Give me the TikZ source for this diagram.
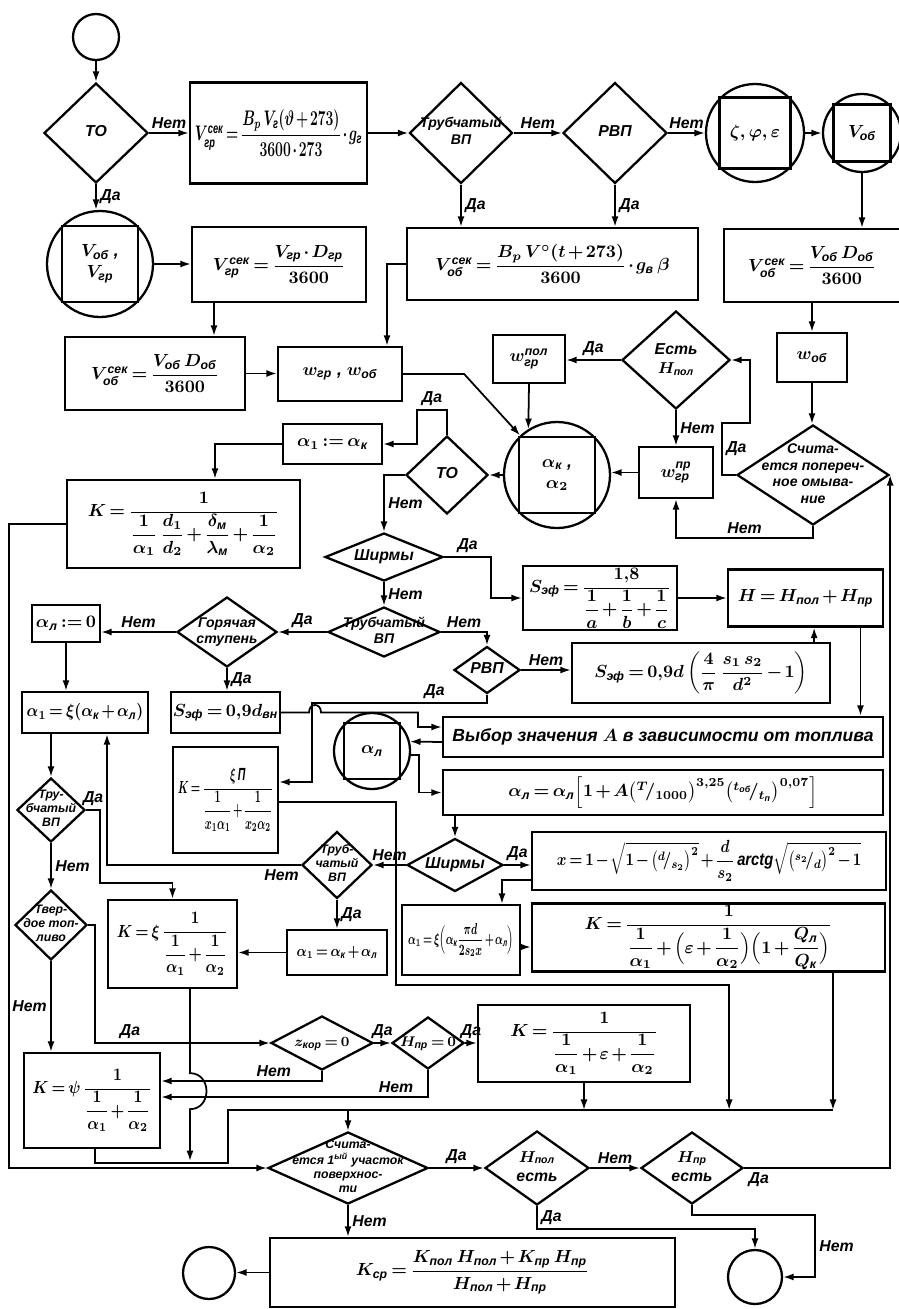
\documentclass[tikz,border=0pt]{standalone}
\usepackage{amsmath}
\usepackage{graphicx}
\usepackage{fontspec}
\setmainfont{Liberation Sans}
\usetikzlibrary{arrows.meta,shapes.geometric}
\newcommand{\rtxt}[1]{\text{#1}}
\newcommand{\nfont}{\bfseries\itshape\boldmath\medmuskip=2mu\thickmuskip=3mu\relax}
\newcommand{\narrow}[2][0.8]{\scalebox{#1}[1]{#2}}
\newcommand{\dtxt}[1]{\smash{\makebox[0pt]{\raisebox{-0.25em}{\begin{tabular}{@{}c@{}}#1\end{tabular}}}}}

\begin{document}
\begin{tikzpicture}[x=0.02cm, y=-0.02cm, >={Latex[length=6pt,width=4pt]},
  every node/.style={font=\nfont},
  box/.style={draw, rectangle, line width=1.3pt, inner sep=1pt, align=center},
  dia/.style={draw, diamond, line width=1.3pt, inner sep=0pt, font=\small\nfont},
  circ/.style={draw, circle, line width=1.3pt, inner sep=0pt, align=center},
  sz/.style 2 args={minimum width=#1*0.02cm, minimum height=#2*0.02cm},
  largef/.style={font=\large\nfont},
  smallf/.style={font=\small\nfont},
  tinyf/.style={font=\footnotesize\nfont},
  lbl/.style={font=\small\bfseries\itshape, inner sep=2pt},
  conn/.style={line width=1pt},
  arr/.style={conn, ->}]

\useasboundingbox (0,0) rectangle (899,1309);

% top row
\node[circ, minimum size=46*0.02cm] (start) at (96,37) {};
\node[dia, sz={104}{100}] (to1) at (96,133) {\dtxt{ТО}};
\node[box, largef, sz={177}{101}] (vgr1) at (278.5,133) {\narrow[0.66]{$V^{\rtxt{сек}}_{\rtxt{гр}}=\dfrac{B_p\,V_{\rtxt{г}}(\vartheta+273)}{3600\cdot 273}\cdot g_{\rtxt{г}}$}};
\node[dia, tinyf, sz={103}{101}] (tvp1) at (461,133) {\dtxt{Трубчатый\\ВП}};
\node[dia, sz={104}{101}] (rvp1) at (615,133) {\dtxt{РВП}};
\node[circ, minimum size=98*0.02cm] (zfe) at (755,133) {$\zeta,\varphi,\varepsilon$};
\node[circ, minimum size=78*0.02cm] (vob0) at (862,133) {$V_{\rtxt{об}}$};
\draw[line width=1.3pt] (zfe.135) rectangle (zfe.-45);
\draw[line width=1.3pt] (vob0.135) rectangle (vob0.-45);

\node[circ, minimum size=106*0.02cm] (vv) at (100,264) {$V_{\rtxt{об}}$ ,\\ $V_{\rtxt{гр}}$};
\draw[line width=1.3pt] (vv.135) rectangle (vv.-45);
\node[box, sz={174}{75}] (vgr2) at (279,264.5) {$V^{\rtxt{сек}}_{\rtxt{гр}}=\dfrac{V_{\rtxt{гр}}\cdot D_{\rtxt{гр}}}{3600}$};
\node[box, sz={291}{72}] (vob2) at (552.5,264) {$V^{\rtxt{сек}}_{\rtxt{об}}=\dfrac{B_p\,V^{\circ}(t+273)}{3600}\cdot g_{\rtxt{в}}\,\beta$};
\node[box, sz={176}{73}] (vob3) at (812,265.5) {$V^{\rtxt{сек}}_{\rtxt{об}}=\dfrac{V_{\rtxt{об}}\;D_{\rtxt{об}}}{3600}$};

\node[box, sz={180}{73}] (vob1) at (155,373.5) {$V^{\rtxt{сек}}_{\rtxt{об}}=\dfrac{V_{\rtxt{об}}\;D_{\rtxt{об}}}{3600}$};
\node[box, sz={124}{54}] (w12) at (340,374) {$w_{\rtxt{гр}}$ , $w_{\rtxt{об}}$};
\node[box, sz={70}{49}] (wob) at (812,357.5) {$w_{\rtxt{об}}$};
\node[dia, sz={108}{98}] (est) at (676,360) {\dtxt{Есть\\$H_{\rtxt{пол}}$}};
\node[box, sz={72}{48}] (wpol) at (529,359) {$w^{\rtxt{пол}}_{\rtxt{гр}}$};
\node[box, sz={74}{51}] (wpr) at (676,472.5) {$w^{\rtxt{пр}}_{\rtxt{гр}}$};
\node[dia, tinyf, sz={152}{100}] (schp) at (813,475) {\dtxt{Счита-\\ется попереч-\\ное омыва-\\ние}};
\node[circ, minimum size=106*0.02cm] (akc) at (557,475) {$\alpha_{\rtxt{к}}$ ,\\ $\alpha_2$};
\draw[line width=1.3pt] (akc.135) rectangle (akc.-45);
\node[dia, sz={82}{78}] (to2) at (447,475) {\dtxt{ТО}};
\node[box, sz={99}{40}] (a1k) at (332.5,444) {$\alpha_1:=\alpha_{\rtxt{к}}$};
\node[box, sz={233}{88}] (k1) at (183.5,524) {$K=\dfrac{1}{\dfrac{1}{\alpha_1}\,\dfrac{d_1}{d_2}+\dfrac{\delta_{\rtxt{м}}}{\lambda_{\rtxt{м}}}+\dfrac{1}{\alpha_2}}$};

% middle
\node[dia, sz={118}{48}] (shm1) at (384,557) {\dtxt{Ширмы}};
\node[box, sz={154}{59}] (sef1) at (600,598) {$S_{\rtxt{эф}}=\dfrac{1{,}8}{\dfrac1a+\dfrac1b+\dfrac1c}$};
\node[box, sz={155}{57}] (hh) at (805.5,598) {$H=H_{\rtxt{пол}}+H_{\rtxt{пр}}$};
\node[dia, tinyf, sz={112}{50}] (tvp2) at (384,632) {\dtxt{Трубчатый\\ВП}};
\node[dia, tinyf, sz={100}{70}] (gor) at (227,632) {\dtxt{Горячая\\ступень}};
\node[box, sz={68}{37}] (al0) at (66,623.5) {$\alpha_{\rtxt{л}}:=0$};
\node[dia, sz={66}{47}] (rvp2) at (487,670) {\dtxt{РВП}};
\node[box, sz={258}{60}] (sef2) at (701,673) {$S_{\rtxt{эф}}=0{,}9d\left(\dfrac{4}{\pi}\;\dfrac{s_1\,s_2}{d^2}-1\right)$};
\node[box, sz={126}{41}] (a1x) at (85,712.5) {\narrow[0.88]{$\alpha_1=\xi(\alpha_{\rtxt{к}}+\alpha_{\rtxt{л}})$}};
\node[box, sz={105}{41}] (sef3) at (225.5,712.5) {$S_{\rtxt{эф}}=0{,}9d_{\rtxt{вн}}$};
\node[box, sz={440}{40}] (vyb) at (663,737) {Выбор значения $A$ в зависимости от топлива};
\node[circ, minimum size=76*0.02cm] (alc) at (372,751) {$\alpha_{\rtxt{л}}$};
\draw[line width=1.3pt] (alc.135) rectangle (alc.-45);
\node[box, sz={440}{45}] (alf) at (663,792.5) {$\alpha_{\rtxt{л}}=\alpha_{\rtxt{л}}\Bigl[1+A\bigl({}^{T}\!/_{1000}\bigr)^{3{,}25}\bigl({}^{t_{\rtxt{об}}}\!/_{t_{\rtxt{п}}}\bigr)^{0{,}07}\Bigr]$};
\node[box, sz={105}{106}] (kxi) at (225.5,800) {\narrow[0.6]{$K=\dfrac{\xi\,\rtxt{П}}{\dfrac{1}{x_1\alpha_1}+\dfrac{1}{x_2\alpha_2}}$}};
\node[dia, sz={68}{64}, font=\scriptsize\bfseries\itshape] (tv1) at (51,810) {\dtxt{Тру-\\бчатый\\ВП}};
\node[dia, sz={96}{53}] (shm2) at (455,865) {\dtxt{Ширмы}};
\node[box, sz={354}{58}] (xbox) at (709,861) {\narrow[0.84]{$x=1-\sqrt{1-\bigl({}^{d}\!/_{s_2}\bigr)^2}+\dfrac{d}{s_2}\,\rtxt{arctg}\sqrt{\bigl({}^{s_2}\!/_{d}\bigr)^2-1}$}};
\node[dia, sz={70}{67}, font=\scriptsize\bfseries\itshape] (tv3) at (337,865) {\dtxt{Труб-\\чатый\\ВП}};
\node[box, smallf, sz={118}{70}] (a1pi) at (461,940) {\narrow[0.63]{$\alpha_1=\xi\Bigl(\alpha_{\rtxt{к}}\dfrac{\pi d}{2s_2x}+\alpha_{\rtxt{л}}\Bigr)$}};
\node[box, sz={353}{65}] (keps) at (708.5,937.5) {$K=\dfrac{1}{\dfrac{1}{\alpha_1}+\Bigl(\varepsilon+\dfrac{1}{\alpha_2}\Bigr)\Bigl(1+\dfrac{Q_{\rtxt{л}}}{Q_{\rtxt{к}}}\Bigr)}$};
\node[box, smallf, sz={100}{45}] (a1s) at (337,952.5) {\narrow[0.82]{$\alpha_1=\alpha_{\rtxt{к}}+\alpha_{\rtxt{л}}$}};
\node[dia, sz={72}{70}, font=\scriptsize\bfseries\itshape] (tvt) at (51,925) {\dtxt{Твер-\\дое топ-\\ливо}};
\node[box, sz={129}{88}] (kxi2) at (172.5,944) {\narrow[0.85]{$K=\xi\,\dfrac{1}{\dfrac{1}{\alpha_1}+\dfrac{1}{\alpha_2}}$}};

% bottom
\node[box, sz={136}{95}] (kpsi) at (92,1100.5) {\narrow[0.88]{$K=\psi\,\dfrac{1}{\dfrac{1}{\alpha_1}+\dfrac{1}{\alpha_2}}$}};
\node[dia, tinyf, sz={102}{54}] (zk) at (322,1043) {\dtxt{$z_{\rtxt{кор}}=0$}};
\node[dia, tinyf, sz={72}{52}] (hp0) at (428,1043) {\dtxt{$H_{\rtxt{пр}}=0$}};
\node[box, sz={212}{77}] (ke2) at (584,1043.5) {$K=\dfrac{1}{\dfrac{1}{\alpha_1}+\varepsilon+\dfrac{1}{\alpha_2}}$};
\coordinate (busL) at (228,1110);
\coordinate (busR) at (833,1110);
\node[dia, sz={160}{72}, font=\scriptsize\bfseries\itshape] (sch1) at (348,1168) {\dtxt{Счита-\\ется 1$^{\text{ый}}$ участок\\поверхнос-\\ти}};
\node[dia, sz={104}{74}] (hpol) at (537,1168) {\dtxt{$H_{\rtxt{пол}}$\\есть}};
\node[dia, sz={102}{72}] (hpr) at (692,1168) {\dtxt{$H_{\rtxt{пр}}$\\есть}};
\node[box, sz={405}{69}] (ksr) at (472.5,1272.5) {$K_{\rtxt{ср}}=\dfrac{K_{\rtxt{пол}}\,H_{\rtxt{пол}}+K_{\rtxt{пр}}\,H_{\rtxt{пр}}}{H_{\rtxt{пол}}+H_{\rtxt{пр}}}$};
\node[circ, minimum size=52*0.02cm] (end1) at (209,1273) {};
\node[circ, minimum size=54*0.02cm] (end2) at (755,1277) {};

% connectors
\draw[arr] (start) -- (to1);
\draw[arr] (to1.east) -- (to1.east -| vgr1.west) node[lbl, midway, above] (l1) {Нет};
\draw[arr] (vgr1.east) -- (tvp1.west);
\draw[arr] (tvp1.east) -- (rvp1.west) node[lbl, midway, above] (l2) {Нет};
\draw[arr] (rvp1.east) -- (zfe.west) node[lbl, midway, above] (l3) {Нет};
\draw[arr] (zfe.east) -- (vob0.west);
\draw[arr] (to1.south) -- (to1.south |- vv.north) node[lbl, midway, right] (l4) {Да};
\draw[arr] (vv.east) -- (vv.east -| vgr2.west);
\draw[arr] ([xshift=-1.3cm]vgr2.south) -- ([xshift=-1.3cm]vgr2.south |- vob1.north);
\draw[arr] (vob1.east) -- (vob1.east -| w12.west);
\draw[arr] (vob2.west) -| ([xshift=0.94cm]w12.north);
\draw[arr] (tvp1.south) -- (tvp1.south |- vob2.north) node[lbl, midway, right] (l5) {Да};
\draw[arr] (rvp1.south) -- (rvp1.south |- vob2.north) node[lbl, midway, right] (l6) {Да};
\draw[arr] (vob0.south) -- (vob0.south |- vob3.north);
\draw[arr] (vob3.south) -- (wob.north);
\draw[arr] (wob.south) -- (wob.south |- schp.north);
\draw[arr] (schp.west) -- ++(-14,0) -- ++(0,-52) node[lbl, midway, right] (l7) {Да} -- ++(28,0) |- (est.east);
\draw[arr] (est.west) -- (est.west -| wpol.east) node[lbl, midway, above] (l8) {Да};
\draw[arr] (wpol.south) -- (akc.122);
\draw[arr] (wpr.west) -- (wpr.west -| akc.east);
\draw[arr] (est.south) -- (est.south |- wpr.north) node[lbl, midway, right] (l9) {Нет};
\draw[arr] (schp.south) -- ++(0,12) -| (wpr.south) node[lbl, pos=0.25, above] (l10) {Нет};
\draw[arr] (hpr.east) -| (schp.east) node[lbl, pos=0.05, below] (l11) {Да};
\draw[arr] (akc.west) -- (to2.east);
\draw[arr] (w12.east) -- ++(61,0) -- (akc.133);
\draw[arr] (to2.north) -- ++(0,-25) -- ++(-30,0) node[lbl, midway, above] (l12) {Да} |- (a1k.east);
\draw[arr] (a1k.west) -| ([xshift=0.63cm]k1.north);
\draw[arr] (k1.west) -- ++(-57,0) |- (sch1.west);
\draw[arr] (to2.west) -| (shm1.north) node[lbl, pos=0.75, right] (l13) {Нет};
\draw[arr] (shm1.east) -- ++(47,0) node[lbl, midway, above] (l14) {Да} |- (sef1.west);
\draw[arr] (sef1.east) -- (hh.west);
\draw[arr] (shm1.south) -- (tvp2.north) node[lbl, midway, right] (l15) {Нет};
\draw[arr] (tvp2.east) -| (rvp2.north) node[lbl, pos=0.25, above] (l16) {Нет};
\draw[arr] (tvp2.west) -- (gor.east) node[lbl, midway, above] (l17) {Да};
\draw[arr] (gor.west) -- (gor.west -| al0.east) node[lbl, midway, above] (l18) {Нет};
\draw[arr] (al0.south) -- (al0.south |- a1x.north);
\draw[arr] (gor.south) -- (gor.south |- sef3.north) node[lbl, midway, right] (l19) {Да};
\draw[arr] (rvp2.east) -- (rvp2.east -| sef2.west) node[lbl, midway, above] (l20) {Нет};
\draw[arr] ([xshift=-0.34cm]sef2.north east) -- ([xshift=-0.34cm]sef2.north east |- hh.south);
\draw[arr] ([xshift=1.1cm]hh.south) -- ([xshift=1.1cm]hh.south |- vyb.north);
\draw[arr] (rvp2.south) -- ++(0,8) -- ++(-175,0) node[lbl, pos=0.3, above] (l21) {Да} |- ([yshift=0.36cm]kxi.east);
\draw[arr] (sef3.east) -- ++(28,0) .. controls +(0,-10) and +(0,-10) .. ++(12,0) -- ++(97,0) |- ([yshift=0.2cm]vyb.west);
\draw[arr] ([yshift=-0.1cm]vyb.west) -- (alc.14);
\draw[arr] (alc.-6) -- ++(8,0) |- (alf.west);
\draw[arr] (shm2.north |- alf.south) -- (shm2.north);
\draw[arr] (shm2.east) -- (shm2.east -| xbox.west) node[lbl, midway, above] (l22) {Да};
\draw[arr] (shm2.west) -- (tv3.east) node[lbl, midway, above] (l23) {Нет};
\draw[arr] ([yshift=-0.38cm]xbox.west) -| ([xshift=0.82cm]a1pi.north);
\draw[arr] ([yshift=-0.14cm]a1pi.east) -- ([yshift=-0.14cm]a1pi.east -| keps.west);
\draw[arr] ([xshift=2.49cm]keps.south) -- ([xshift=2.49cm]keps.south |- busR);
\draw[arr] (tv3.south) -- (tv3.south |- a1s.north) node[lbl, midway, right] (l24) {Да};
\draw[arr] (tv3.west) -| ([xshift=0.44cm]a1x.south) node[lbl, pos=0.05, below] (l25) {Нет};
\draw[arr] (a1s.west) -- (a1s.west -| kxi2.east);
\draw[arr] (tv1.north |- a1x.south) -- (tv1.north);
\draw[arr] (tv1.east) -- ++(14,0) node[lbl, midway, above] (l26) {Да} -- ++(0,73) -| (kxi2.north);
\draw[arr] (tv1.south) -- (tvt.north) node[lbl, midway, right] (l27) {Нет};
\draw[arr] (tvt.east) -- ++(7,0) |- (zk.west) node[lbl, pos=0.6, above] (l28) {Да};
\draw[arr] (tvt.south) -- (tvt.south |- kpsi.north) node[lbl, midway, left] (l29) {Нет};
\draw[arr] ([xshift=0.35cm]kxi2.south) -- ++(0,84) .. controls +(22,0) and +(22,0) .. ++(0,36) -- ++(0,52);
\draw[arr] (zk.south) |- ([yshift=0.39cm]kpsi.east) node[lbl, pos=0.65, above] (l30) {Нет};
\draw[arr] (hp0.south) |- ([yshift=0.07cm]kpsi.east) node[lbl, pos=0.56, above] (l31) {Нет};
\draw[arr] (zk.east) -- (hp0.west) node[lbl, midway, above] (l32) {Да};
\draw[arr] (hp0.east) -- (hp0.east -| ke2.west) node[lbl, midway, above] (l33) {Да};
\draw[arr] (ke2.south) -- (ke2.south |- busR);
\draw[arr] ([yshift=-0.04cm]kxi.east) -- ++(117,0) -- ++(0,183) -- ++(333,0) -- ++(0,125);
\draw[conn] ([xshift=0.06cm]kpsi.south) -- ++(0,14) -| (busL) -- (busR);
\draw[arr] (busL -| sch1.north) -- (sch1.north);
\draw[arr] (sch1.east) -- (hpol.west) node[lbl, midway, above] (l34) {Да};
\draw[arr] (hpol.east) -- (hpr.west) node[lbl, midway, above] (l35) {Нет};
\draw[arr] (sch1.south) -- (sch1.south |- ksr.north) node[lbl, midway, right] (l36) {Нет};
\draw[arr] (ksr.west) -- (ksr.west -| end1.east);
\draw[arr] (hpol.south) -- ++(0,23) node[lbl, midway, right] (l37) {Да} -| (end2.north);
\draw[arr] (hpr.south) -- ++(0,10) -- ++(123,0) |- (end2.east) node[lbl, pos=0.25, right] (l38) {Нет};

\end{tikzpicture}
\end{document}
